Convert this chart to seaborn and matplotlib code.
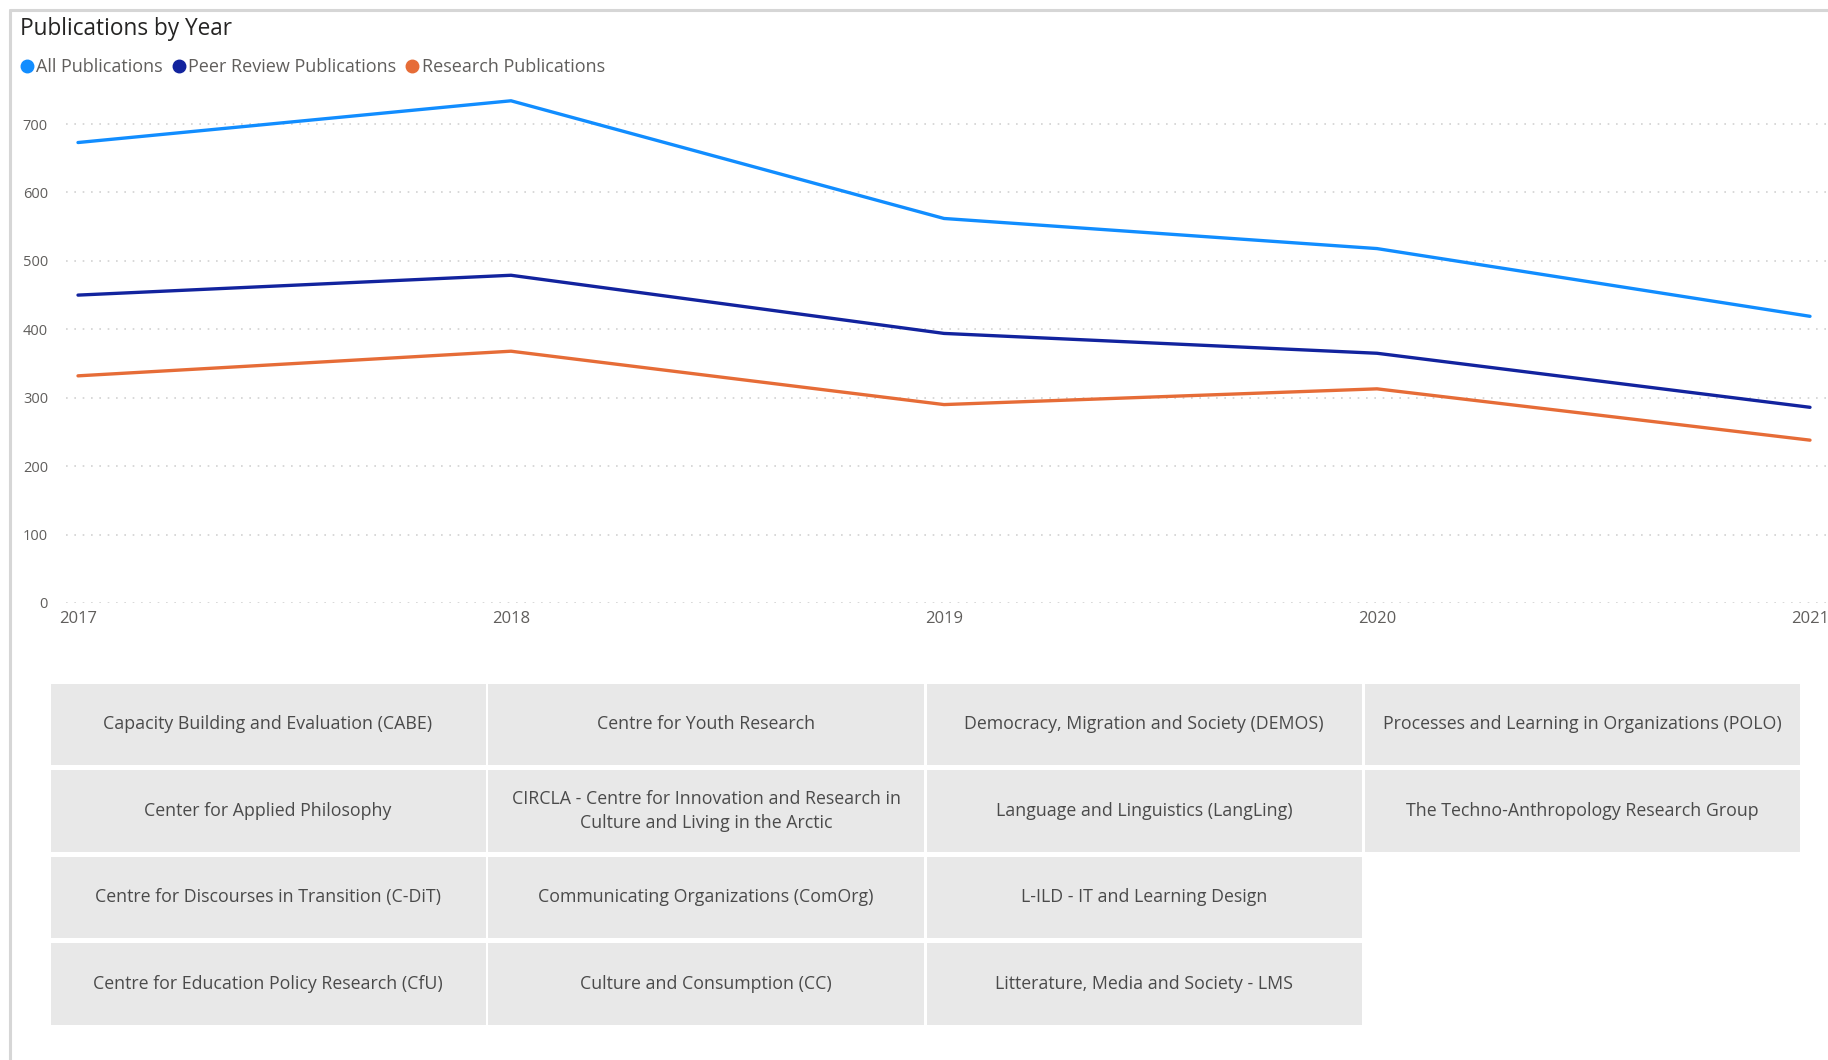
import matplotlib
matplotlib.use("Agg")
import matplotlib.pyplot as plt
import seaborn as sns
import pandas as pd
from matplotlib.lines import Line2D
from matplotlib.patches import Rectangle

# ---------------- data ----------------
years = [2017, 2018, 2019, 2020, 2021]
all_pubs = [673, 734, 562, 518, 419]
peer_pubs = [450, 479, 394, 365, 286]
research_pubs = [332, 368, 290, 313, 238]
series_names = ["All Publications", "Peer Review Publications", "Research Publications"]
series_colors = ["#118DFF", "#12239E", "#E66C37"]
y_ticks = [0, 100, 200, 300, 400, 500, 600, 700]

groups = [
    ["Capacity Building and Evaluation (CABE)", "Centre for Youth Research",
     "Democracy, Migration and Society (DEMOS)", "Processes and Learning in Organizations (POLO)"],
    ["Center for Applied Philosophy", "CIRCLA - Centre for Innovation and Research in\nCulture and Living in the Arctic",
     "Language and Linguistics (LangLing)", "The Techno-Anthropology Research Group"],
    ["Centre for Discourses in Transition (C-DiT)", "Communicating Organizations (ComOrg)",
     "L-ILD - IT and Learning Design", None],
    ["Centre for Education Policy Research (CfU)", "Culture and Consumption (CC)",
     "Litterature, Media and Society - LMS", None],
]

df = pd.DataFrame({
    "Year": years * 3,
    "Count": all_pubs + peer_pubs + research_pubs,
    "Series": [series_names[0]] * 5 + [series_names[1]] * 5 + [series_names[2]] * 5,
})

# ---------------- style ----------------
sns.set_theme(style="white")
plt.rcParams["font.family"] = ["Open Sans", "DejaVu Sans"]

W, H = 1828, 1060
fig = plt.figure(figsize=(W / 100, H / 100), dpi=100)
fig.patch.set_facecolor("white")

def fx(px):
    return px / W

def fy(py):
    return 1 - py / H

# line chart axes
ax_left, ax_right = 66, 1828
ax_top, ax_bottom = 83, 603
ax = fig.add_axes([fx(ax_left), fy(ax_bottom), fx(ax_right - ax_left), (ax_bottom - ax_top) / H])

sns.lineplot(data=df, x="Year", y="Count", hue="Series", hue_order=series_names,
             palette=series_colors, linewidth=2.4, ax=ax, legend=False)

x0_px, x_step_px = 78, 433
ax.set_xlim(2017 - (x0_px - ax_left) / x_step_px, 2017 + (ax_right - x0_px) / x_step_px)
ax.set_ylim(0, 760)
ax.set_yticks(y_ticks)
ax.set_xticks(years)
ax.set_xticklabels([str(y) for y in years])
ax.set_xlabel("")
ax.set_ylabel("")
for s in ax.spines.values():
    s.set_visible(False)
ax.grid(axis="y", color="#d2d2d2", linestyle=(0, (1, 4)), linewidth=1.2)
ax.grid(axis="x", visible=False)
ax.tick_params(axis="y", length=0, pad=13, labelsize=10.5, labelcolor="#605E5C")
ax.tick_params(axis="x", length=0, pad=6, labelsize=12, labelcolor="#605E5C")
ax.set_facecolor("none")

# title
fig.text(fx(20), fy(29), "Publications by Year", fontsize=16.3, color="#252423",
         ha="left", va="center")

# legend
handles = [Line2D([0], [0], marker="o", linestyle="none", markersize=9,
                  markerfacecolor=c, markeredgecolor=c) for c in series_colors]
leg = fig.legend(handles, series_names, loc="center left", bbox_to_anchor=(fx(18), fy(67)),
                 ncol=3, frameon=False, fontsize=13, handletextpad=0.02,
                 columnspacing=0.38, handlelength=1.0, borderaxespad=0, borderpad=0)
for t in leg.get_texts():
    t.set_color("#605E5C")

# border of the visual
fig.add_artist(Line2D([fx(10), fx(10)], [fy(10), 0], color="#d6d6d6", linewidth=2.2))
fig.add_artist(Line2D([fx(10), 1], [fy(10), fy(10)], color="#d6d6d6", linewidth=2.2))

# group tiles
tx0, tx1, ty0, ty1 = 49, 1801, 681, 1027
tax = fig.add_axes([fx(tx0), fy(ty1), fx(tx1 - tx0), (ty1 - ty0) / H])
ncols, nrows = 4, len(groups)
tax.set_xlim(0, ncols)
tax.set_ylim(nrows, 0)
tax.axis("off")
gx = 3 / ((tx1 - tx0) / ncols)
gy = 5 / ((ty1 - ty0) / nrows)
for r, row in enumerate(groups):
    for c, label in enumerate(row):
        if label is None:
            continue
        tax.add_patch(Rectangle((c + gx / 2, r + gy / 2), 1 - gx, 1 - gy,
                                facecolor="#E8E8E8", edgecolor="none"))
        tax.text(c + 0.5, r + 0.5, label, ha="center", va="center", fontsize=12.8,
                 color="#4a4a4a", linespacing=1.4)

fig.savefig("out.png", dpi=100, facecolor="white")
